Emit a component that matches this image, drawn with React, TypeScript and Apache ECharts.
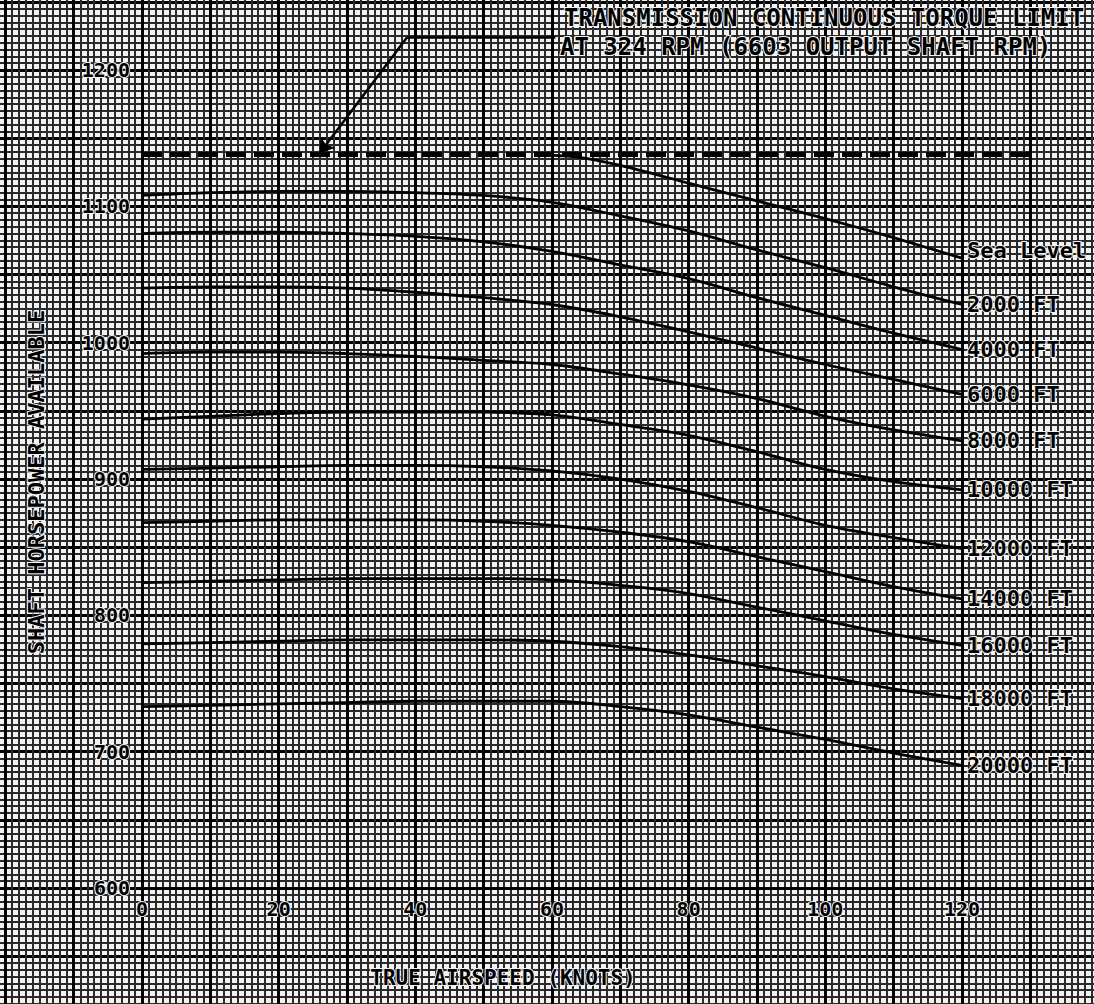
import React, { useEffect, useRef } from "react";
import * as echarts from "echarts";

// ---- data ----
const knots = [0, 10, 20, 30, 40, 50, 60, 70, 80, 90, 100, 110, 120];
const seaLevelKnots = [58, 64, 70, 80, 90, 100, 110, 120];
const seaLevel = [1138, 1136, 1130, 1117, 1104, 1091, 1077, 1062];
const alt2000 = [1108, 1110, 1111, 1111, 1110, 1108, 1103, 1093, 1082, 1068, 1055, 1041, 1028];
const alt4000 = [1080, 1081, 1081, 1080, 1078, 1074, 1067, 1057, 1047, 1033, 1020, 1007, 995];
const alt6000 = [1040, 1041, 1041, 1040, 1037, 1033, 1028, 1019, 1008, 996, 984, 973, 962];
const alt8000 = [992, 993, 993, 992, 990, 987, 984, 977, 969, 959, 946, 936, 928];
const alt10000 = [944, 946, 948, 949, 949, 949, 947, 940, 932, 920, 907, 898, 892];
const alt12000 = [907, 908, 909, 910, 910, 909, 906, 900, 891, 879, 866, 857, 849];
const alt14000 = [868, 869, 870, 870, 870, 869, 866, 861, 854, 843, 832, 821, 812];
const alt16000 = [824, 825, 826, 827, 827, 827, 826, 822, 816, 806, 796, 786, 778];
const alt18000 = [779, 780, 781, 782, 782, 782, 781, 777, 771, 763, 755, 746, 739];
const alt20000 = [733, 734, 735, 736, 737, 737, 737, 733, 727, 718, 709, 699, 690];
const altitudeNames = ["2000 FT", "4000 FT", "6000 FT", "8000 FT", "10000 FT", "12000 FT", "14000 FT", "16000 FT", "18000 FT", "20000 FT"];
const altitudeValues = [alt2000, alt4000, alt6000, alt8000, alt10000, alt12000, alt14000, alt16000, alt18000, alt20000];
const limitKnots = [0, 131];
const limitHP = 1138;
const annotationElbow = [38.8, 1224];
const annotationEnd = [60.5, 1224];
const annotationTip = [26, 1139];
const annotationLines = ["TRANSMISSION CONTINUOUS TORQUE LIMIT", "AT 324 RPM (6603 OUTPUT SHAFT RPM)"];
const xTitle = "TRUE AIRSPEED (KNOTS)";
const yTitle = "SHAFT HORSEPOWER AVAILABLE";

// ---- layout ----
const W = 1094;
const H = 1004;
const X0 = 142;
const PXK = 6.833; // px per knot
const Y600 = 888;
const PXH = 1.3633; // px per HP
const FONT = "'DejaVu Sans Mono', 'Liberation Mono', monospace";
const PAPER = "#f2f2f2";
const HALO = { textBorderColor: PAPER, textBorderWidth: 2 };

export default function App() {
  const ref = useRef<HTMLDivElement>(null);
  useEffect(() => {
    if (!ref.current) return;
    const chart = echarts.init(ref.current, undefined, { renderer: "svg" });

    const labelStyle = {
      show: true,
      formatter: "{a}",
      color: "#000",
      fontFamily: FONT,
      fontWeight: "bold",
      fontSize: 22,
      distance: 5,
      ...HALO,
    };

    const altitudeSeries = altitudeNames.map((name, i) => ({
      type: "line",
      name,
      xAxisIndex: 1,
      yAxisIndex: 1,
      data: knots.map((k, j) => [k, altitudeValues[i][j]]),
      smooth: 0.35,
      symbol: "none",
      clip: false,
      z: 5,
      lineStyle: { color: "#000", width: 2.8 },
      endLabel: labelStyle,
    }));

    const tickLabel = {
      show: true,
      showMaxLabel: false,
      color: "#000",
      fontFamily: FONT,
      fontWeight: "bold",
      fontSize: 20,
      formatter: (v: number) => String(v),
      ...HALO,
    };

    const option: any = {
      animation: false,
      backgroundColor: PAPER,
      grid: [
        {
          left: X0 - 30 * PXK,
          top: Y600 - 700 * PXH,
          width: 180 * PXK,
          height: 800 * PXH,
          containLabel: false,
          outerBoundsMode: "none",
        },
        {
          left: X0,
          top: Y600 - 650 * PXH,
          width: 140 * PXK,
          height: 650 * PXH,
          containLabel: false,
          outerBoundsMode: "none",
        },
      ],
      xAxis: [
        {
          gridIndex: 0,
          type: "value",
          min: -30,
          max: 150,
          interval: 10,
          axisLine: { show: false },
          axisTick: { show: false },
          axisLabel: { show: false },
          splitLine: { show: true, lineStyle: { color: "#000", width: 3 } },
          minorTick: { show: false, splitNumber: 10 },
          minorSplitLine: { show: true, lineStyle: { color: "#2a2a2a", width: 2 } },
        },
        {
          gridIndex: 1,
          type: "value",
          min: 0,
          max: 140,
          interval: 20,
          axisLine: { show: true, onZero: false, lineStyle: { color: "#000", width: 3 } },
          axisTick: { show: false },
          splitLine: { show: false },
          axisLabel: { ...tickLabel, margin: 11 },
        },
      ],
      yAxis: [
        {
          gridIndex: 0,
          type: "value",
          min: 500,
          max: 1300,
          interval: 50,
          axisLine: { show: false },
          axisTick: { show: false },
          axisLabel: { show: false },
          splitLine: { show: true, lineStyle: { color: "#000", width: 3 } },
          minorTick: { show: false, splitNumber: 10 },
          minorSplitLine: { show: true, lineStyle: { color: "#2a2a2a", width: 2 } },
        },
        {
          gridIndex: 1,
          type: "value",
          min: 600,
          max: 1250,
          interval: 100,
          axisLine: { show: true, onZero: false, lineStyle: { color: "#000", width: 3 } },
          axisTick: { show: false },
          splitLine: { show: false },
          axisLabel: { ...tickLabel, margin: 12 },
        },
      ],
      series: [
        {
          type: "line",
          name: "Transmission limit",
          xAxisIndex: 1,
          yAxisIndex: 1,
          data: limitKnots.map((k) => [k, limitHP]),
          symbol: "none",
          clip: false,
          z: 6,
          lineStyle: { color: "#000", width: 5, type: [20, 8] },
          markLine: {
            silent: true,
            symbolSize: 14,
            label: { show: false },
            lineStyle: { color: "#000", width: 2.5, type: "solid" },
            data: [
              [
                { coord: annotationElbow, symbol: "none" },
                { coord: annotationTip, symbol: "arrow" },
              ],
              [
                { coord: annotationElbow, symbol: "none" },
                { coord: annotationEnd, symbol: "none" },
              ],
            ],
          },
        },
        {
          type: "line",
          name: "Sea Level",
          xAxisIndex: 1,
          yAxisIndex: 1,
          data: seaLevelKnots.map((k, j) => [k, seaLevel[j]]),
          smooth: 0.3,
          symbol: "none",
          clip: false,
          z: 5,
          lineStyle: { color: "#000", width: 2.8 },
          endLabel: { ...labelStyle, offset: [0, -8] },
        },
        ...altitudeSeries,
      ],
      graphic: [
        {
          type: "text",
          x: 564,
          y: 18,
          z: 10,
          style: {
            text: annotationLines[0],
            fill: "#000",
            font: `bold 24px ${FONT}`,
            align: "left",
            verticalAlign: "middle",
            stroke: PAPER,
            lineWidth: 2,
          },
        },
        {
          type: "text",
          x: 560,
          y: 47,
          z: 10,
          style: {
            text: annotationLines[1],
            fill: "#000",
            font: `bold 24px ${FONT}`,
            align: "left",
            verticalAlign: "middle",
            stroke: PAPER,
            lineWidth: 2,
          },
        },
        {
          type: "text",
          x: 503,
          y: 978,
          z: 10,
          style: {
            text: xTitle,
            fill: "#000",
            font: `bold 21px ${FONT}`,
            align: "center",
            verticalAlign: "middle",
            stroke: PAPER,
            lineWidth: 2,
          },
        },
        {
          type: "text",
          x: 36,
          y: 482,
          rotation: Math.PI / 2,
          z: 10,
          style: {
            text: yTitle,
            fill: "#000",
            font: `bold 22px ${FONT}`,
            align: "center",
            verticalAlign: "middle",
            stroke: PAPER,
            lineWidth: 2,
          },
        },
      ],
    };

    chart.setOption(option);
    return () => chart.dispose();
  }, []);

  return (
    <div
      ref={ref}
      style={{ position: "fixed", left: 0, top: 0, width: W, height: H }}
    />
  );
}
